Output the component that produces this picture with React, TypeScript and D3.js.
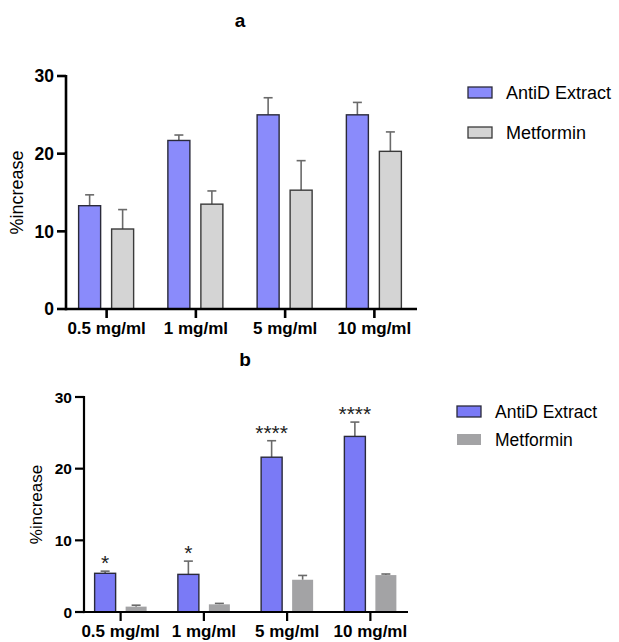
import React from "react";
import * as d3 from "d3";

const categories = ["0.5 mg/ml", "1 mg/ml", "5 mg/ml", "10 mg/ml"];
const seriesNames = ["AntiD Extract", "Metformin"];
const yTicks = [0, 10, 20, 30];

// Panel a
const aAntiD = [13.3, 21.7, 25.0, 25.0];
const aAntiDErr = [14.7, 22.4, 27.2, 26.6];
const aMet = [10.3, 13.5, 15.3, 20.3];
const aMetErr = [12.8, 15.2, 19.1, 22.8];

// Panel b
const bAntiD = [5.4, 5.25, 21.6, 24.5];
const bAntiDErr = [5.7, 7.1, 23.9, 26.5];
const bMet = [0.75, 1.07, 4.5, 5.15];
const bMetErr = [0.95, 1.2, 5.1, 5.3];
const bStars = ["*", "*", "****", "****"];

const FONT = "'Liberation Sans', Arial, sans-serif";

type PanelProps = {
  title: string;
  titleX: number;
  titleY: number;
  antid: number[];
  antidErr: number[];
  met: number[];
  metErr: number[];
  stars?: string[];
  xRange: [number, number];
  axisX0: number;
  axisX1: number;
  yRange: [number, number];
  barW: number;
  offA: number;
  offM: number;
  colA: string;
  colM: string;
  metStroke: string | null;
  tickFont: number;
  catFont: number;
  yLabelFont: number;
  yLabelX: number;
  legendX: number;
  legendY: number;
  legendFont: number;
  legendGap: number;
  axisW: number;
};

function Panel(p: PanelProps) {
  const x = d3.scaleBand<string>().domain(categories).range(p.xRange).paddingInner(0).paddingOuter(0);
  const y = d3.scaleLinear().domain([0, 30]).range(p.yRange);
  const y0 = y(0);
  const cx = (c: string) => (x(c) as number) + x.bandwidth() / 2;
  const errCol = "#6a6a6a";
  const capW = 9;
  const bars = (vals: number[], errs: number[], off: number, fill: string, stroke: string | null, key: string) =>
    categories.map((c, i) => {
      const bx = cx(c) + off - p.barW / 2;
      const top = y(vals[i]);
      const et = y(errs[i]);
      const mx = bx + p.barW / 2;
      return (
        <g key={key + i}>
          <line x1={mx} x2={mx} y1={top} y2={et} stroke={errCol} strokeWidth={1.6} />
          <line x1={mx - capW / 2} x2={mx + capW / 2} y1={et} y2={et} stroke={errCol} strokeWidth={1.6} />
          <rect
            x={bx}
            y={top}
            width={p.barW}
            height={y0 - top}
            fill={fill}
            stroke={stroke ?? "none"}
            strokeWidth={stroke ? 1.4 : 0}
          />
        </g>
      );
    });
  const mid = (p.yRange[0] + p.yRange[1]) / 2;
  return (
    <g>
      <text x={p.titleX} y={p.titleY} fontFamily={FONT} fontWeight="bold" fontSize={19} textAnchor="middle" fill="#000">
        {p.title}
      </text>
      {bars(p.antid, p.antidErr, p.offA, p.colA, "#2a2a3a", "a")}
      {bars(p.met, p.metErr, p.offM, p.colM, p.metStroke, "m")}
      {p.stars &&
        categories.map((c, i) => (
          <text
            key={"s" + i}
            x={cx(c) + p.offA}
            y={y(p.antidErr[i]) - 1}
            textAnchor="middle"
            fontFamily={FONT}
            fontSize={21}
            fill="#222"
          >
            {p.stars![i]}
          </text>
        ))}
      {/* axes */}
      <line x1={p.axisX0} x2={p.axisX0} y1={p.yRange[1] - 1} y2={y0 + p.axisW / 2} stroke="#000" strokeWidth={p.axisW} />
      <line x1={p.axisX0} x2={p.axisX1} y1={y0} y2={y0} stroke="#000" strokeWidth={p.axisW} />
      {yTicks.map((t) => (
        <g key={"yt" + t}>
          <line x1={p.axisX0 - 9} x2={p.axisX0} y1={y(t)} y2={y(t)} stroke="#000" strokeWidth={p.axisW} />
          <text
            x={p.axisX0 - 12}
            y={y(t)}
            dy="0.36em"
            textAnchor="end"
            fontFamily={FONT}
            fontWeight="bold"
            fontSize={p.tickFont}
            fill="#000"
          >
            {t}
          </text>
        </g>
      ))}
      {categories.map((c) => (
        <g key={"xt" + c}>
          <line x1={cx(c)} x2={cx(c)} y1={y0} y2={y0 + 9} stroke="#000" strokeWidth={p.axisW} />
          <text
            x={cx(c)}
            y={y0 + 25}
            textAnchor="middle"
            fontFamily={FONT}
            fontWeight="bold"
            fontSize={p.catFont}
            fill="#000"
          >
            {c}
          </text>
        </g>
      ))}
      <text
        transform={`translate(${p.yLabelX},${mid}) rotate(-90)`}
        textAnchor="middle"
        fontFamily={FONT}
        fontSize={p.yLabelFont}
        fill="#000"
      >
        %increase
      </text>
      {/* legend */}
      {seriesNames.map((s, i) => {
        const ly = p.legendY + i * p.legendGap;
        const isA = i === 0;
        return (
          <g key={"lg" + s}>
            <rect
              x={p.legendX}
              y={ly - 6}
              width={24}
              height={11}
              fill={isA ? p.colA : p.colM}
              stroke={isA ? "#2a2a3a" : p.metStroke ?? "none"}
              strokeWidth={isA || p.metStroke ? 1.3 : 0}
            />
            <text x={p.legendX + 38} y={ly} dy="0.36em" fontFamily={FONT} fontSize={p.legendFont} fill="#000">
              {s}
            </text>
          </g>
        );
      })}
    </g>
  );
}

export default function App() {
  return (
    <div style={{ position: "absolute", left: 0, top: 0 }}>
      <svg width={619} height={642} style={{ display: "block", background: "#fff" }}>
        <rect width={619} height={642} fill="#fff" />
        <Panel
          title="a"
          titleX={240}
          titleY={27}
          antid={aAntiD}
          antidErr={aAntiDErr}
          met={aMet}
          metErr={aMetErr}
          xRange={[62, 419]}
          axisX0={66}
          axisX1={417}
          yRange={[309, 76]}
          barW={22}
          offA={-17}
          offM={16}
          colA="#8a8bfb"
          colM="#d4d4d4"
          metStroke="#3a3a3a"
          tickFont={17.5}
          catFont={17}
          yLabelFont={18}
          yLabelX={23}
          legendX={468}
          legendY={93}
          legendFont={18}
          legendGap={40}
          axisW={2.6}
        />
        <Panel
          title="b"
          titleX={245}
          titleY={366}
          antid={bAntiD}
          antidErr={bAntiDErr}
          met={bMet}
          metErr={bMetErr}
          stars={bStars}
          xRange={[79, 412]}
          axisX0={84}
          axisX1={408}
          yRange={[612, 397]}
          barW={21}
          offA={-15.5}
          offM={15.5}
          colA="#7a7af6"
          colM="#a3a3a5"
          metStroke={null}
          tickFont={15.5}
          catFont={17}
          yLabelFont={17}
          yLabelX={42}
          legendX={457}
          legendY={412}
          legendFont={17.5}
          legendGap={28}
          axisW={2.2}
        />
      </svg>
    </div>
  );
}
